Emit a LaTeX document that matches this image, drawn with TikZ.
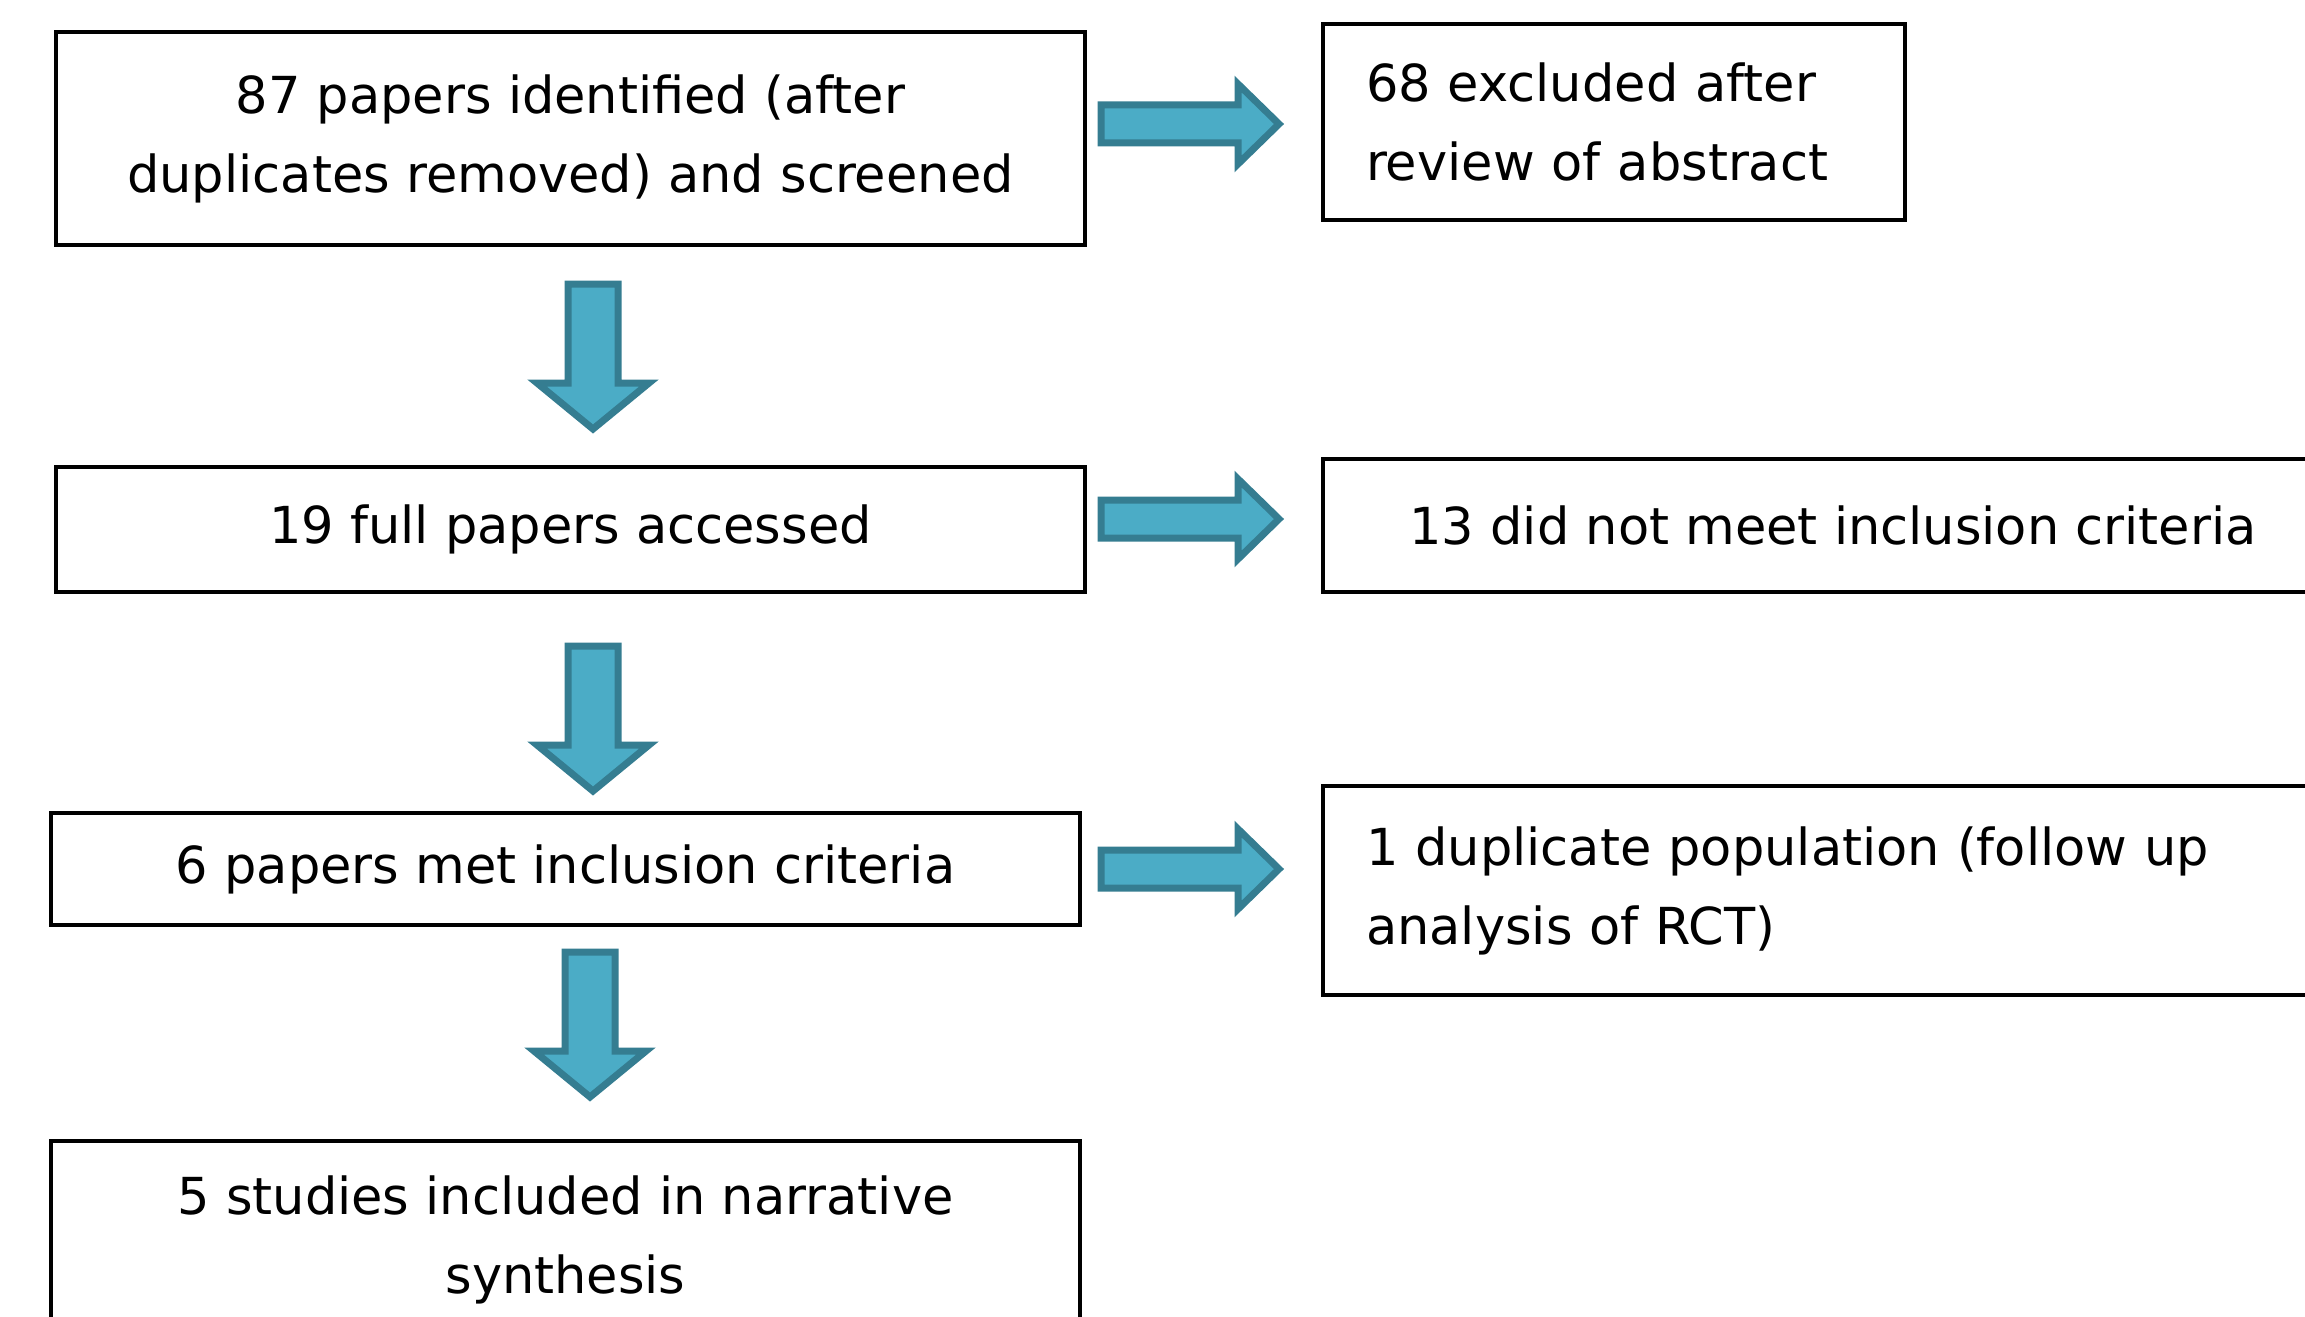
\documentclass[tikz,border=0pt]{standalone}
\usepackage{fontspec}
\setmainfont{DejaVu Sans}
\definecolor{arrowfill}{HTML}{4BACC6}
\definecolor{arrowline}{HTML}{357D91}
\begin{document}
\begin{tikzpicture}[x=0.5pt,y=-0.5pt,
  box/.style={draw=black, line width=1.6pt, fill=white, inner sep=0pt,
    font=\fontsize{25.5}{39.5}\selectfont},
  leftbox/.style={box, align=left, inner xsep=21.5pt},
  barrow/.style={draw=arrowline, fill=arrowfill, line width=3.5pt, line join=miter}]
\useasboundingbox (0,0) rectangle (2305,1316);
\clip (0,0) rectangle (2305,1316);
% left column
\node[box, align=center, minimum width=514.5pt, minimum height=106.5pt] (b1) at (570.5,138.5)
  {87 papers identified (after\\duplicates removed) and screened};
\node[box, align=center, minimum width=514.5pt, minimum height=62.5pt] (b2) at (570.5,529.5)
  {19 full papers accessed};
\node[box, align=center, minimum width=514.5pt, minimum height=56pt] (b3) at (565.5,869)
  {6 papers met inclusion criteria};
\node[box, align=center, minimum width=514.5pt, minimum height=99pt] (b4) at (565.5,1240)
  {5 studies included in narrative\\synthesis};
% right column
\node[leftbox, text width=248pt, minimum height=98pt] (r1) at (1614,122)
  {68 excluded after\\review of abstract};
\node[box, align=center, minimum width=510pt, minimum height=66.5pt] (r2) at (1833,525.5)
  {13 did not meet inclusion criteria};
\node[leftbox, text width=467pt, minimum height=104.5pt] (r3) at (1833,890.5)
  {1 duplicate population (follow up\\analysis of RCT)};
% arrow anchors
\coordinate (ra1) at (1101,124);
\coordinate (ra2) at (1101,519);
\coordinate (ra3) at (1101,869);
\coordinate (da1) at (593,284);
\coordinate (da2) at (593,646);
\coordinate (da3) at (590,952);
% right block arrows
\foreach \c in {ra1,ra2,ra3}{
  \draw[barrow] (\c) ++(0,-19) -- ++(137,0) -- ++(0,-21) -- ++(41,40) -- ++(-41,40)
    -- ++(0,-21) -- ++(-137,0) -- cycle;
}
% down block arrows
\foreach \c in {da1,da2,da3}{
  \draw[barrow] (\c) ++(-25,0) -- ++(50,0) -- ++(0,99) -- ++(31,0) -- ++(-56,46)
    -- ++(-56,-46) -- ++(31,0) -- cycle;
}
\end{tikzpicture}
\end{document}
